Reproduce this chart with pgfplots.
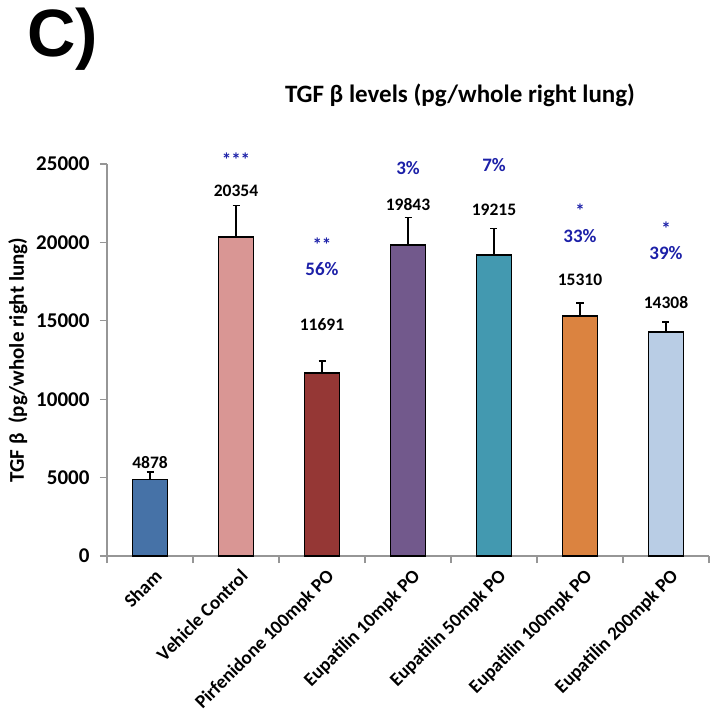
\documentclass[border=0pt]{standalone}
\usepackage{pgfplots}
\pgfplotsset{compat=1.18}
\usepackage{fontspec}
\setmainfont{Carlito}
\newfontfamily\arialfont{Liberation Sans}
\definecolor{cSham}{RGB}{70,114,167}
\definecolor{cVeh}{RGB}{217,150,148}
\definecolor{cPirf}{RGB}{149,55,53}
\definecolor{cE10}{RGB}{114,89,140}
\definecolor{cE50}{RGB}{67,153,176}
\definecolor{cE100}{RGB}{219,131,64}
\definecolor{cE200}{RGB}{185,205,229}
\definecolor{annblue}{RGB}{28,32,168}
\definecolor{axgray}{RGB}{150,150,150}
\begin{document}
\begin{tikzpicture}[x=1pt,y=1pt]
\begin{axis}[
  at={(107pt,160pt)}, anchor=south west,
  scale only axis, width=602pt, height=392pt,
  xmin=-0.5, xmax=6.5, ymin=0, ymax=25000,
  clip=false,
  axis lines*=left,
  axis line style={draw=axgray, line width=1.2pt},
  xtick={0,...,6},
  xticklabels={Sham,Vehicle Control,Pirfenidone 100mpk PO,Eupatilin 10mpk PO,Eupatilin 50mpk PO,Eupatilin 100mpk PO,Eupatilin 200mpk PO},
  minor xtick={-0.5,0.5,...,6.5},
  major x tick style={draw=none},
  ytick={0,5000,...,25000},
  tick align=outside,
  tick style={draw=axgray, line width=1.2pt},
  major tick length=7pt, minor tick length=7pt,
  scaled y ticks=false,
  yticklabel style={font=\fontsize{21}{21}\selectfont\bfseries, /pgf/number format/assume math mode=true, /pgf/number format/1000 sep={}, xshift=-7pt},
  xticklabel style={rotate=45, anchor=north east, font=\fontsize{19}{19}\selectfont\bfseries, inner sep=1pt, yshift=-5pt},
  ylabel={TGF β\ \ (pg/whole right lung)},
  ylabel style={font=\fontsize{21}{21}\selectfont\bfseries, at={(axis description cs:-0.148,0.5)}, anchor=center},
  bar width=35pt,
  mybar/.style={ybar, bar shift=0pt, draw=black, line width=1.8pt,
    error bars/y dir=plus, error bars/y explicit,
    error bars/error bar style={black, line width=1.5pt},
    error bars/error mark options={black, line width=1.5pt, mark size=3.5pt, rotate=90}},
]
\addplot[mybar, fill=cSham] coordinates {(0,4878) +- (0,470)};
\addplot[mybar, fill=cVeh] coordinates {(1,20354) +- (0,2010)};
\addplot[mybar, fill=cPirf] coordinates {(2,11691) +- (0,750)};
\addplot[mybar, fill=cE10] coordinates {(3,19843) +- (0,1760)};
\addplot[mybar, fill=cE50] coordinates {(4,19215) +- (0,1660)};
\addplot[mybar, fill=cE100] coordinates {(5,15310) +- (0,825)};
\addplot[mybar, fill=cE200] coordinates {(6,14308) +- (0,600)};

\tikzset{num/.style={font=\fontsize{17.5}{17.5}\selectfont\bfseries, text=black},
         ann/.style={font=\fontsize{19}{19}\selectfont\bfseries, text=annblue}}
\node[num] at (axis cs:0,5950) {4878};
\node[num] at (axis cs:1,23300) {20354};
\node[num] at (axis cs:2,14730) {11691};
\node[num] at (axis cs:3,22385) {19843};
\node[num] at (axis cs:4,22066) {19215};
\node[num] at (axis cs:5,17600) {15310};
\node[num] at (axis cs:6,16180) {14308};

\node[ann] at (axis cs:1,25300) {***};
\node[ann] at (axis cs:2,19850) {**};
\node[ann] at (axis cs:2,18280) {56\%};
\node[ann] at (axis cs:3,24760) {3\%};
\node[ann] at (axis cs:4,24940) {7\%};
\node[ann] at (axis cs:5,22050) {*};
\node[ann] at (axis cs:5,20430) {33\%};
\node[ann] at (axis cs:6,20880) {*};
\node[ann] at (axis cs:6,19300) {39\%};
\end{axis}
\node[font=\fontsize{25}{25}\selectfont\bfseries] at (460,621) {TGF β levels (pg/whole right lung)};
\node[font=\arialfont\bfseries\fontsize{67}{67}\selectfont, anchor=base west, inner sep=0pt] at (27,659) {C)};
\pgfresetboundingbox
\path (0,0) rectangle (725,716);
\end{tikzpicture}
\end{document}
